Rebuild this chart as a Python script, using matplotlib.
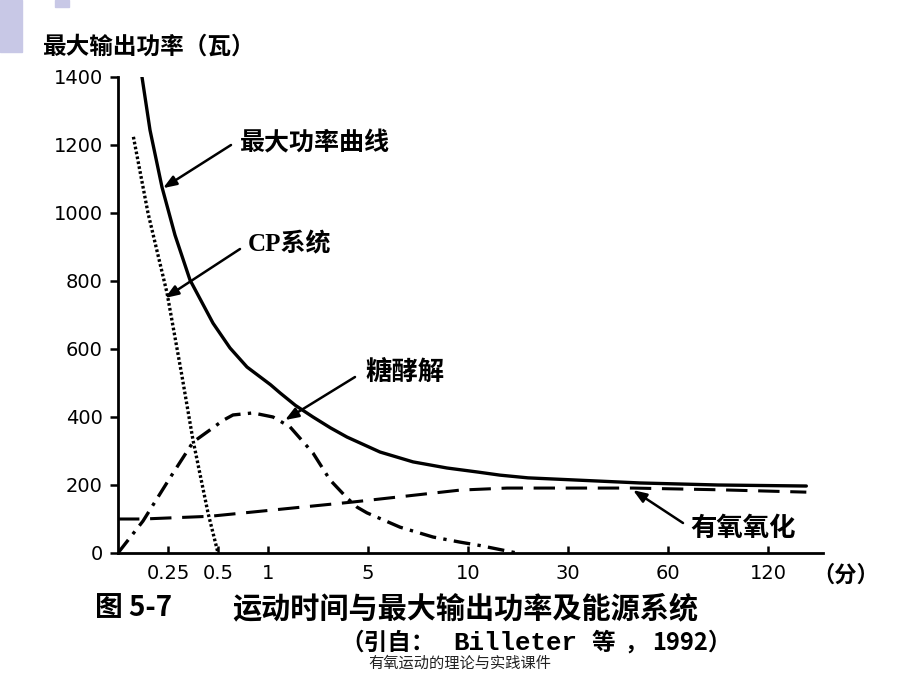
import numpy as np
import matplotlib
matplotlib.use('Agg')
from matplotlib import pyplot as plt
from matplotlib.patches import Rectangle

# x axis: exercise time in minutes, drawn on an uneven (piecewise) scale
TICK_MIN = [0, 0.25, 0.5, 1, 5, 10, 30, 60, 120, 180]
TICK_POS = [0, 0.5, 1, 1.5, 2.5, 3.5, 4.5, 5.5, 6.5, 7.5]
x_ticks = [0.25, 0.5, 1, 5, 10, 30, 60, 120]
x_labels = ['0.25', '0.5', '1', '5', '10', '30', '60', '120']
y_ticks = [0, 200, 400, 600, 800, 1000, 1200, 1400]

# max power curve (solid)
max_t = [0.12, 0.16, 0.22, 0.285, 0.36, 0.475, 0.62, 0.79, 1.1, 1.48, 2.1, 2.8, 3.5, 4.16, 5.6,
         7.25, 8.95, 12.0, 16.4, 22.0, 31.5, 51.6, 90, 143]
max_w = [1400, 1244, 1076, 935, 803, 676, 603, 547, 495, 471, 434, 400, 368, 341, 297,
         268, 250, 238, 229, 221, 215, 206, 200, 197]

# CP system (dotted)
cp_t = [0.077, 0.15, 0.245, 0.32, 0.375, 0.45, 0.5]
cp_w = [1224, 1000, 765, 520, 332, 118, 0]

# glycolysis (dash-dot)
gly_t = [0, 0.125, 0.26, 0.375, 0.46, 0.55, 0.65, 0.85, 1.2, 1.88, 2.8, 3.48, 4.16, 4.56, 4.96,
         6.6, 8.25, 9.6, 12.4, 19.8]
gly_w = [0, 94, 221, 326, 362, 390, 406, 412, 400, 371, 294, 215, 162, 135, 118,
         76, 47, 32, 22, 0]

# aerobic oxidation (dashed)
aer_t = [0, 0.125, 0.46, 4.4, 9.6, 17.8, 49.5, 90, 143]
aer_w = [100, 100, 108, 150, 185, 191, 191, 186, 179]

W, H = 920, 690
CJK = ['Noto Sans CJK SC', 'DejaVu Sans']


def px(x, y):
    return (x / W, 1 - y / H)


def fwd(x):
    return np.interp(x, TICK_MIN, TICK_POS)


def inv(p):
    return np.interp(p, TICK_POS, TICK_MIN)


fig = plt.figure(figsize=(9.2, 6.9), dpi=100)
fig.patch.set_facecolor('white')
ax = fig.add_axes([118 / W, 1 - 553 / H, (823 - 118) / W, (553 - 77) / H])
ax.set_xscale('function', functions=(fwd, inv))
ax.set_xlim(0, 153)
ax.set_ylim(0, 1400)

ax.plot(max_t, max_w, color='black', lw=2.4, solid_capstyle='round', solid_joinstyle='round')
ax.plot(cp_t, cp_w, color='black', lw=2.4, linestyle=(0, (0.8, 0.7)))
ax.plot(gly_t, gly_w, color='black', lw=2.4, linestyle=(0, (5, 2.2, 1, 2.2)))
ax.plot(aer_t, aer_w, color='black', lw=2.2, linestyle=(0, (7, 3.5)))

for s in ['top', 'right']:
    ax.spines[s].set_visible(False)
for s in ['left', 'bottom']:
    ax.spines[s].set_linewidth(2)

ax.set_yticks(y_ticks)
ax.set_yticklabels([str(v) for v in y_ticks], fontsize=14, family='DejaVu Sans')
ax.tick_params(axis='y', direction='out', length=6, width=1.8, pad=5)
ax.set_xticks(x_ticks)
ax.set_xticklabels(x_labels, fontsize=14, family='DejaVu Sans')
ax.tick_params(axis='x', direction='in', length=5, width=1.8, pad=8)
ax.minorticks_off()

# labels
fig.text(*px(42, 47), '最大输出功率（瓦）', family=CJK, fontsize=17, fontweight='bold', va='center', ha='left')
fig.text(*px(812, 575), '（分）', family=CJK, fontsize=16, fontweight='bold', va='center', ha='left')

# annotations
arrow = dict(arrowstyle='-|>,head_length=0.8,head_width=0.3', color='black', lw=1.8, shrinkA=0, shrinkB=0)
fig.text(*px(240, 143), '最大功率曲线', family=CJK, fontsize=18, fontweight='bold', va='center')
ax.annotate('', xy=(0.225, 1073), xytext=px(231, 145), textcoords='figure fraction', arrowprops=arrow)
fig.text(*px(248, 244), 'CP系统', family=['Liberation Serif', 'Noto Sans CJK SC'], fontsize=18, fontweight='bold', va='center')
ax.annotate('', xy=(0.235, 750), xytext=px(240, 249), textcoords='figure fraction', arrowprops=arrow)
fig.text(*px(365, 372), '糖酵解', family=CJK, fontsize=19, fontweight='bold', va='center')
ax.annotate('', xy=(1.68, 391), xytext=px(355, 377), textcoords='figure fraction', arrowprops=arrow)
fig.text(*px(690, 528), '有氧氧化', family=CJK, fontsize=19, fontweight='bold', va='center')
ax.annotate('', xy=(49.5, 185), xytext=px(683, 523), textcoords='figure fraction', arrowprops=arrow)

# caption
fig.text(*px(95, 608), '图 5-7', family=CJK, fontsize=20, fontweight='bold', va='center')
fig.text(*px(232, 608), '运动时间与最大输出功率及能源系统', family=CJK, fontsize=21, fontweight='bold', va='center')
fig.text(*px(340, 643), '（引自：', family=CJK, fontsize=17, fontweight='bold', va='center')
fig.text(*px(453, 643), 'Billeter', family='Liberation Mono', fontsize=18.5, fontweight='bold', va='center')
fig.text(*px(592, 643), '等', family=CJK, fontsize=17, fontweight='bold', va='center')
fig.text(*px(624, 643), '，', family=CJK, fontsize=16, fontweight='bold', va='center')
fig.text(*px(652, 643), '1992）', family=CJK, fontsize=17, fontweight='bold', va='center')
fig.text(*px(368, 663), '有氧运动的理论与实践课件', family=CJK, fontsize=11, color='#222222', va='center')

# decoration in the corner
fig.patches.append(Rectangle(px(0, 52), 22 / W, 52 / H, transform=fig.transFigure, color='#c8c8e6', zorder=0))
fig.patches.append(Rectangle(px(55, 7), 14 / W, 7 / H, transform=fig.transFigure, color='#c8c8e6', zorder=0))

fig.savefig('out.png', dpi=100)
